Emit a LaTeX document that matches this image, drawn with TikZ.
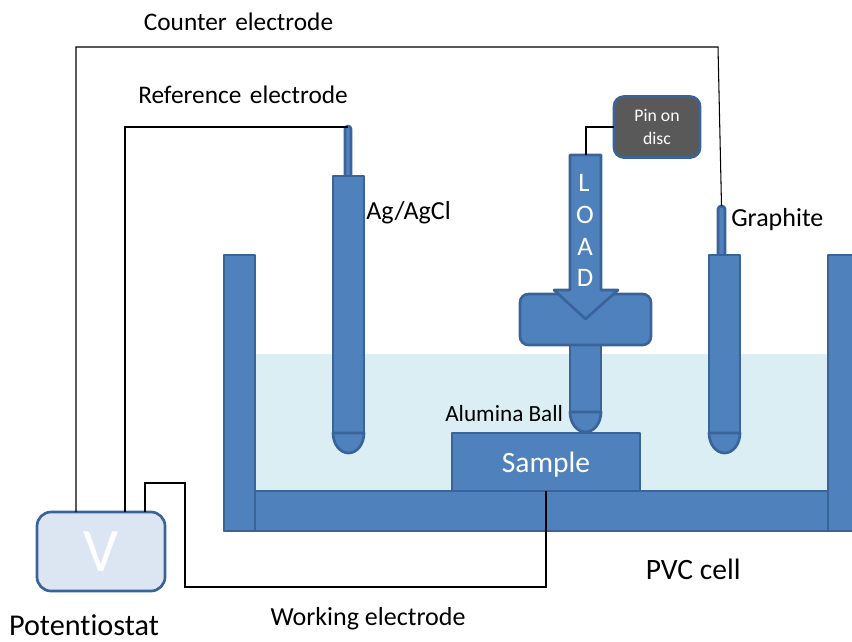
\documentclass[tikz,border=0pt]{standalone}
\usepackage{fontspec}
\setmainfont[Ligatures=NoCommon]{Carlito}
\usepackage{xcolor}
\usetikzlibrary{arrows.meta,positioning,calc}

\definecolor{partblue}{HTML}{4F81BD}
\definecolor{edgeblue}{HTML}{3A639A}
\definecolor{liquidblue}{HTML}{DAEEF3}
\definecolor{potfill}{HTML}{DCE6F2}
\definecolor{pinfill}{HTML}{595959}

\tikzset{
  part/.style={fill=partblue, draw=edgeblue, line width=1.9pt, line join=round},
  wire/.style={draw=black, line width=0.75pt},
  lbl/.style={text=black, inner sep=0pt, font=\fontsize{#1}{#1}\selectfont},
  lbl/.default=18.5,
  loadletter/.style={text=white, inner sep=0pt, font=\fontsize{19}{19}\selectfont}
}

\begin{document}
\begin{tikzpicture}[x=0.025cm, y=-0.025cm]

\useasboundingbox (0, 0) rectangle (852, 641);

% ==================== PVC cell ====================
\fill[liquidblue] (255, 354) rectangle (828, 491);
\draw[part] (224, 491) rectangle (864, 531);
\draw[part] (224, 255) rectangle (255, 531);
\draw[part] (864, 255) -- (828, 255) -- (828, 531) -- (864, 531);

% Sample on the cell floor
\node[part, outer sep=0pt, minimum width=188*0.025cm, minimum height=58*0.025cm, inner sep=0pt, text depth=0pt, text=white, font=\fontsize{21}{21}\selectfont] (sample) at (546, 462) {Sample};

% ==================== Reference electrode ====================
\draw[part] (345, 176) -- (345, 129) arc[start angle=180, end angle=0, x radius=3, y radius=-3] -- (351, 176);
\draw[part] (333, 176) rectangle (364, 433);
\draw[part] (333, 433) arc[start angle=180, end angle=360, x radius=15.5, y radius=-20] -- cycle;
\coordinate (reftop) at (348, 127);
\node[lbl, anchor=west] (agcl) at (366, 213) {Ag/AgCl};

% ==================== Counter electrode ====================
\draw[part] (718, 255) -- (718, 209) arc[start angle=180, end angle=0, x radius=3.5, y radius=-3] -- (725, 255);
\draw[part] (709, 255) rectangle (740, 433);
\draw[part] (709, 433) arc[start angle=180, end angle=360, x radius=15.5, y radius=-20] -- cycle;
\coordinate (counttop) at (721.5, 206);
\node[lbl, anchor=west] (graphite) at (731, 220) {Graphite};

% ==================== Load assembly ====================
\draw[part] (570, 345) rectangle (601, 412);
\draw[part] (570, 412) arc[start angle=180, end angle=360, x radius=15.5, y radius=-20] -- cycle;
\draw[part, rounded corners=6pt] (520, 294) rectangle (651, 345);
\draw[part] (570, 155) -- (601, 155) -- (601, 290) -- (618, 290) -- (585.5, 319) -- (554, 290) -- (570, 290) -- cycle;
\coordinate (loadtop) at (586, 155);
\node[loadletter] (letterl) at (584, 183) {L};
\node[loadletter] (lettero) at (585, 215) {O};
\node[loadletter] (lettera) at (585, 247) {A};
\node[loadletter] (letterd) at (585, 278) {D};
\node[lbl=16.5, anchor=west] (ball) at (445, 414) {Alumina Ball};

% Pin on disc box
\node[fill=pinfill, draw=edgeblue, line width=1.9pt, rounded corners=7pt, outer sep=0pt, minimum width=86*0.025cm, minimum height=61*0.025cm, inner sep=0pt, align=center, text=white, font=\fontsize{12.6}{16}\selectfont] (pin) at (657, 127) {Pin on\\disc};

% ==================== Potentiostat ====================
\node[fill=potfill, draw=edgeblue, line width=1.9pt, rounded corners=10pt, outer sep=0pt, minimum width=128*0.025cm, minimum height=79*0.025cm, inner sep=0pt, text=white, font=\fontsize{44}{44}\selectfont] (pot) at (101, 551.5) {V};

% Wires
\draw[wire] (76, 0 |- pot.north) -- (76, 47) -- (718, 47) -- (counttop);
\draw[wire] (125, 0 |- pot.north) -- (125, 127) -- (reftop);
\draw[wire] (145, 0 |- pot.north) -- (145, 483) -- (185, 483) -- (185, 587) -| (sample.south);
\draw[wire] (loadtop) |- (pin.west);

% Labels
\node[lbl=18] (counterlbl) at (238.5, 22) {Counter\hspace{2pt} electrode};
\node[lbl=18] (reflbl) at (243, 95) {Reference\hspace{2pt} electrode};
\node[lbl] (worklbl) at (368, 619) {Working electrode};
\node[lbl=21.5] (potlbl) at (84, 625) {Potentiostat};
\node[lbl=21, anchor=west] (pvclbl) at (645.5, 569) {PVC cell};

\end{tikzpicture}
\end{document}
